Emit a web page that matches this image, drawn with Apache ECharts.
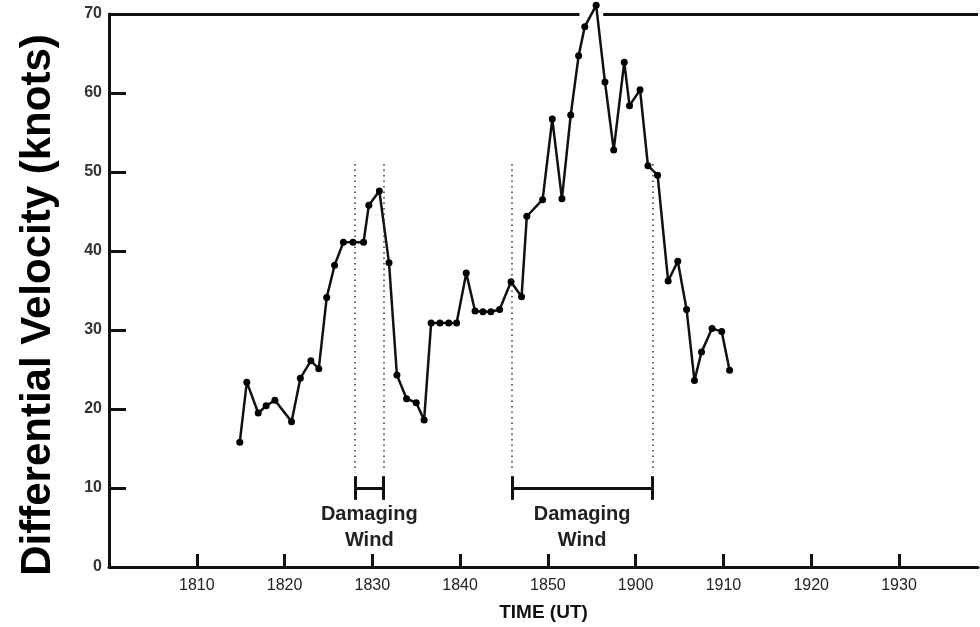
<!DOCTYPE html>
<html>
<head>
<meta charset="utf-8">
<title>Differential Velocity</title>
<script src="https://cdn.jsdelivr.net/npm/echarts@6/dist/echarts.min.js"></script>
<style>
  html, body { margin: 0; padding: 0; background: #fff; }
  #main { width: 980px; height: 627px; }
</style>
</head>
<body>
<div id="main"></div>
<script>
// minutes after 18:00 UT
const times = [14.9, 15.7, 17.0, 17.9, 18.9, 20.8, 21.8, 23.0, 23.9, 24.8,
  25.7, 26.7, 27.8, 29.0, 29.6, 30.8, 31.9, 32.8, 33.9, 35.0,
  35.9, 36.7, 37.7, 38.7, 39.6, 40.7, 41.7, 42.6, 43.5, 44.5,
  45.8, 47.0, 47.6, 49.4, 50.5, 51.6, 52.6, 53.5, 54.2, 55.5,
  56.5, 57.5, 58.7, 59.3, 60.5, 61.4, 62.5, 63.7, 64.8, 65.8,
  66.7, 67.5, 68.7, 69.8, 70.7];
// knots
const velocity = [15.8, 23.4, 19.5, 20.4, 21.1, 18.4, 23.9, 26.1, 25.1, 34.1,
  38.2, 41.1, 41.1, 41.1, 45.8, 47.6, 38.5, 24.3, 21.3, 20.8,
  18.6, 30.9, 30.9, 30.9, 30.9, 37.2, 32.4, 32.3, 32.3, 32.6,
  36.1, 34.2, 44.4, 46.5, 56.7, 46.6, 57.2, 64.7, 68.4, 71.1,
  61.4, 52.8, 63.9, 58.4, 60.4, 50.8, 49.6, 36.2, 38.7, 32.6,
  23.6, 27.2, 30.2, 29.8, 24.9];

// damaging wind periods: [start, end] in minutes
const windStart = [28.0, 45.9];
const windEnd = [31.3, 61.9];
const windLabel = 'Damaging\nWind';
const bracketLevel = 10;
const dottedTop = 51;
const dottedBottom = 12;

const yTicks = [0, 10, 20, 30, 40, 50, 60, 70];

const chart = echarts.init(document.getElementById('main'));

const points = times.map((t, i) => [t, velocity[i]]);

// dotted guides, brackets with end caps
let marks = [];
for (let i = 0; i < windStart.length; i++) {
  marks.push([{ coord: [windStart[i], dottedTop] }, { coord: [windStart[i], dottedBottom] }]);
  marks.push([{ coord: [windEnd[i], dottedTop] }, { coord: [windEnd[i], dottedBottom] }]);
}
let bracketMarks = [];
for (let i = 0; i < windStart.length; i++) {
  bracketMarks.push([{ coord: [windStart[i], bracketLevel] }, { coord: [windEnd[i], bracketLevel] }]);
  bracketMarks.push([{ coord: [windStart[i], bracketLevel - 1.5] }, { coord: [windStart[i], bracketLevel + 1.5] }]);
  bracketMarks.push([{ coord: [windEnd[i], bracketLevel - 1.5] }, { coord: [windEnd[i], bracketLevel + 1.5] }]);
}
const labelPoints = windStart.map((s, i) => [(s + windEnd[i]) / 2, bracketLevel - 1.7]);

const font = '"Liberation Sans", Arial, Helvetica, sans-serif';

chart.setOption({
  animation: false,
  grid: { left: 109, right: 2, top: 14, bottom: 60 },
  xAxis: {
    type: 'value',
    min: 0,
    max: 99,
    interval: 10,
    name: 'TIME (UT)',
    nameLocation: 'middle',
    nameGap: 36,
    nameTextStyle: { fontFamily: font, fontWeight: 'bold', fontSize: 19, color: '#111' },
    splitLine: { show: false },
    axisLine: { lineStyle: { color: '#111', width: 3 } },
    axisTick: { inside: true, length: 13, lineStyle: { color: '#111', width: 3 } },
    axisLabel: {
      showMinLabel: false,
      showMaxLabel: false,
      margin: 11,
      fontFamily: font,
      fontSize: 16,
      color: '#222',
      formatter: function (v) {
        let h = 18 + Math.floor(v / 60);
        let m = v % 60;
        return String(h * 100 + m);
      }
    }
  },
  yAxis: {
    type: 'value',
    min: 0,
    max: 70,
    interval: 10,
    splitLine: { show: false },
    axisLine: { show: true, lineStyle: { color: '#111', width: 3 } },
    axisTick: { show: true, inside: true, length: 17, lineStyle: { color: '#111', width: 3 } },
    axisLabel: {
      margin: 7,
      fontFamily: font,
      fontSize: 16,
      fontWeight: 'bold',
      color: '#333',
      formatter: function (v) { return yTicks.indexOf(v) >= 0 ? String(v) : ''; }
    }
  },
  graphic: [{
    type: 'text',
    x: 38,
    y: 305,
    rotation: Math.PI / 2,
    style: {
      text: 'Differential Velocity (knots)',
      fontFamily: font,
      fontWeight: 'bold',
      fontSize: 42,
      fill: '#000',
      align: 'center',
      verticalAlign: 'middle'
    }
  }],
  series: [
    {
      // top frame, broken where the peak pokes through
      type: 'line',
      data: [],
      silent: true,
      markLine: {
        silent: true,
        symbol: 'none',
        label: { show: false },
        lineStyle: { color: '#111', width: 3, type: 'solid' },
        data: [
          [{ coord: [0, 70] }, { coord: [53.6, 70] }],
          [{ coord: [56.3, 70] }, { coord: [99, 70] }]
        ]
      }
    },
    {
      type: 'line',
      data: [],
      silent: true,
      markLine: {
        silent: true,
        symbol: 'none',
        label: { show: false },
        lineStyle: { color: '#333', width: 1.5, type: [1.5, 4] },
        data: marks
      }
    },
    {
      type: 'line',
      data: [],
      silent: true,
      markLine: {
        silent: true,
        symbol: 'none',
        label: { show: false },
        lineStyle: { color: '#111', width: 3, type: 'solid' },
        data: bracketMarks
      }
    },
    {
      type: 'scatter',
      data: labelPoints,
      symbolSize: 0,
      silent: true,
      itemStyle: { opacity: 1 },
      label: {
        show: true,
        position: 'bottom',
        distance: 0,
        formatter: windLabel,
        fontFamily: font,
        fontWeight: 'bold',
        fontSize: 20,
        lineHeight: 26,
        color: '#222',
        opacity: 1,
        align: 'center'
      }
    },
    {
      type: 'line',
      data: points,
      clip: false,
      symbol: 'circle',
      symbolSize: 7,
      itemStyle: { color: '#000' },
      lineStyle: { color: '#111', width: 2.5 }
    }
  ]
});
</script>
</body>
</html>
